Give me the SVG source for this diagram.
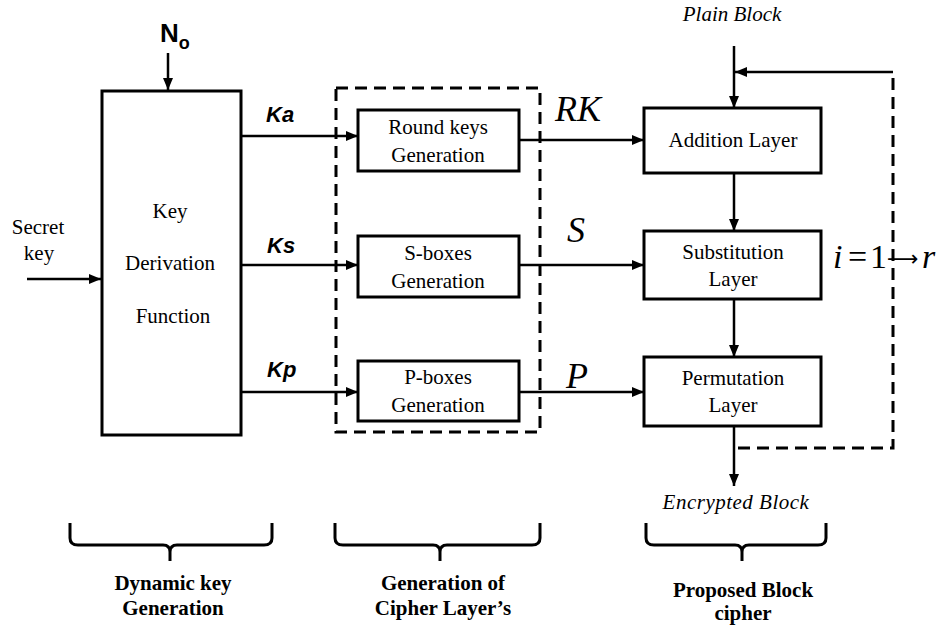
<svg xmlns="http://www.w3.org/2000/svg" width="943" height="631" viewBox="0 0 943 631">
<style>
.box{fill:#fff;stroke:#000;stroke-width:3}
.ln{fill:none;stroke:#000;stroke-width:2.5}
.dash{fill:none;stroke:#000;stroke-width:3;stroke-dasharray:12 7}
.t{font-family:"Liberation Serif","Times New Roman",serif;font-size:21px;text-anchor:middle;fill:#000}
.it{font-family:"Liberation Serif","Times New Roman",serif;font-style:italic;fill:#000}
.k{font-family:"Liberation Sans",Arial,sans-serif;font-weight:bold;font-style:italic;font-size:22px;fill:#000}
.b{font-family:"Liberation Serif","Times New Roman",serif;font-weight:bold;font-size:21px;text-anchor:middle;fill:#000}
.br{fill:none;stroke:#000;stroke-width:3;stroke-linejoin:round}
</style>
<defs>
<marker id="ah" markerUnits="userSpaceOnUse" markerWidth="12" markerHeight="10" refX="12" refY="5" orient="auto">
<path d="M0,0 L12,5 L0,10 Z" fill="#000"/>
</marker>
</defs>

<g id="connectors">
<line class="ln" x1="168" y1="53" x2="168" y2="90" marker-end="url(#ah)"/>
<line class="ln" x1="27" y1="279" x2="101" y2="279" marker-end="url(#ah)"/>
<line class="ln" x1="241" y1="136" x2="358" y2="136" marker-end="url(#ah)"/>
<line class="ln" x1="241" y1="265" x2="358" y2="265" marker-end="url(#ah)"/>
<line class="ln" x1="241" y1="392" x2="358" y2="392" marker-end="url(#ah)"/>
<line class="ln" x1="519" y1="140" x2="644" y2="140" marker-end="url(#ah)"/>
<line class="ln" x1="519" y1="265" x2="644" y2="265" marker-end="url(#ah)"/>
<line class="ln" x1="519" y1="392" x2="644" y2="392" marker-end="url(#ah)"/>
<line class="ln" x1="734" y1="46" x2="734" y2="108" marker-end="url(#ah)"/>
<line class="ln" x1="893" y1="72" x2="735" y2="72" marker-end="url(#ah)"/>
<line class="ln" x1="734" y1="173" x2="734" y2="231" marker-end="url(#ah)"/>
<line class="ln" x1="734" y1="299" x2="734" y2="357" marker-end="url(#ah)"/>
<line class="ln" x1="734" y1="426" x2="734" y2="486" marker-end="url(#ah)"/>
<polyline class="dash" points="893,78 893,448 735,448"/>
</g>

<g id="cipher-layers-group">
<rect class="dash" x="336" y="88" width="204" height="344"/>
</g>

<g id="kdf">
<rect class="box" x="102" y="91" width="139" height="344"/>
<text class="t" x="170" y="218">Key</text>
<text class="t" x="170" y="270">Derivation</text>
<text class="t" x="173" y="323">Function</text>
</g>

<g id="round-keys">
<rect class="box" x="358" y="110" width="161" height="61"/>
<text class="t" x="438" y="134">Round keys</text>
<text class="t" x="438" y="162">Generation</text>
</g>
<g id="s-boxes">
<rect class="box" x="358" y="236" width="161" height="61"/>
<text class="t" x="438" y="260">S-boxes</text>
<text class="t" x="438" y="288">Generation</text>
</g>
<g id="p-boxes">
<rect class="box" x="358" y="361" width="161" height="60"/>
<text class="t" x="438" y="384">P-boxes</text>
<text class="t" x="438" y="412">Generation</text>
</g>

<g id="addition">
<rect class="box" x="644" y="108" width="177" height="65"/>
<text class="t" x="733" y="147">Addition Layer</text>
</g>
<g id="substitution">
<rect class="box" x="644" y="231" width="177" height="68"/>
<text class="t" x="733" y="259">Substitution</text>
<text class="t" x="733" y="286">Layer</text>
</g>
<g id="permutation">
<rect class="box" x="644" y="357" width="177" height="69"/>
<text class="t" x="733" y="385">Permutation</text>
<text class="t" x="733" y="412">Layer</text>
</g>

<g id="labels">
<text x="160" y="42" font-family="Liberation Sans,Arial,sans-serif" font-weight="bold" font-size="26">N<tspan font-size="18" dy="7">o</tspan></text>
<text class="t" x="38" y="234">Secret</text>
<text class="t" x="39" y="260">key</text>
<text class="k" x="266" y="122">Ka</text>
<text class="k" x="267" y="253">Ks</text>
<text class="k" x="267" y="377">Kp</text>
<text class="it" x="555" y="121" font-size="36">RK</text>
<text class="it" x="567" y="242" font-size="36">S</text>
<text class="it" x="566" y="388" font-size="36">P</text>
<text class="it" x="732" y="21" font-size="21" text-anchor="middle">Plain Block</text>
<text class="it" x="736" y="509" font-size="21" text-anchor="middle" letter-spacing="0.5">Encrypted Block</text>
<text font-family="Liberation Serif,Times New Roman,serif" font-size="34" y="268"><tspan x="833" font-style="italic">i</tspan><tspan x="848">=</tspan><tspan x="870">1</tspan><tspan x="887" y="266" font-family="DejaVu Sans,sans-serif" font-size="22">⟶</tspan><tspan x="922" y="268" font-style="italic">r</tspan></text>
</g>

<g id="braces">
<path class="br" d="M70,523 L70,538 Q70,545 78,545 L163,545 Q170,545 170,552 L170,561 M170,552 Q170,545 177,545 L264,545 Q272,545 272,538 L272,523"/>
<path class="br" d="M335,523 L335,538 Q335,545 343,545 L433,545 Q440,545 440,552 L440,561 M440,552 Q440,545 447,545 L532,545 Q540,545 540,538 L540,523"/>
<path class="br" d="M646,523 L646,538 Q646,545 654,545 L735,545 Q742,545 742,552 L742,561 M742,552 Q742,545 749,545 L818,545 Q826,545 826,538 L826,523"/>
<text class="b" x="173" y="590">Dynamic key</text>
<text class="b" x="173" y="615">Generation</text>
<text class="b" x="443" y="590">Generation of</text>
<text class="b" x="443" y="615">Cipher Layer’s</text>
<text class="b" x="743" y="597">Proposed Block</text>
<text class="b" x="743" y="620">cipher</text>
</g>
</svg>
